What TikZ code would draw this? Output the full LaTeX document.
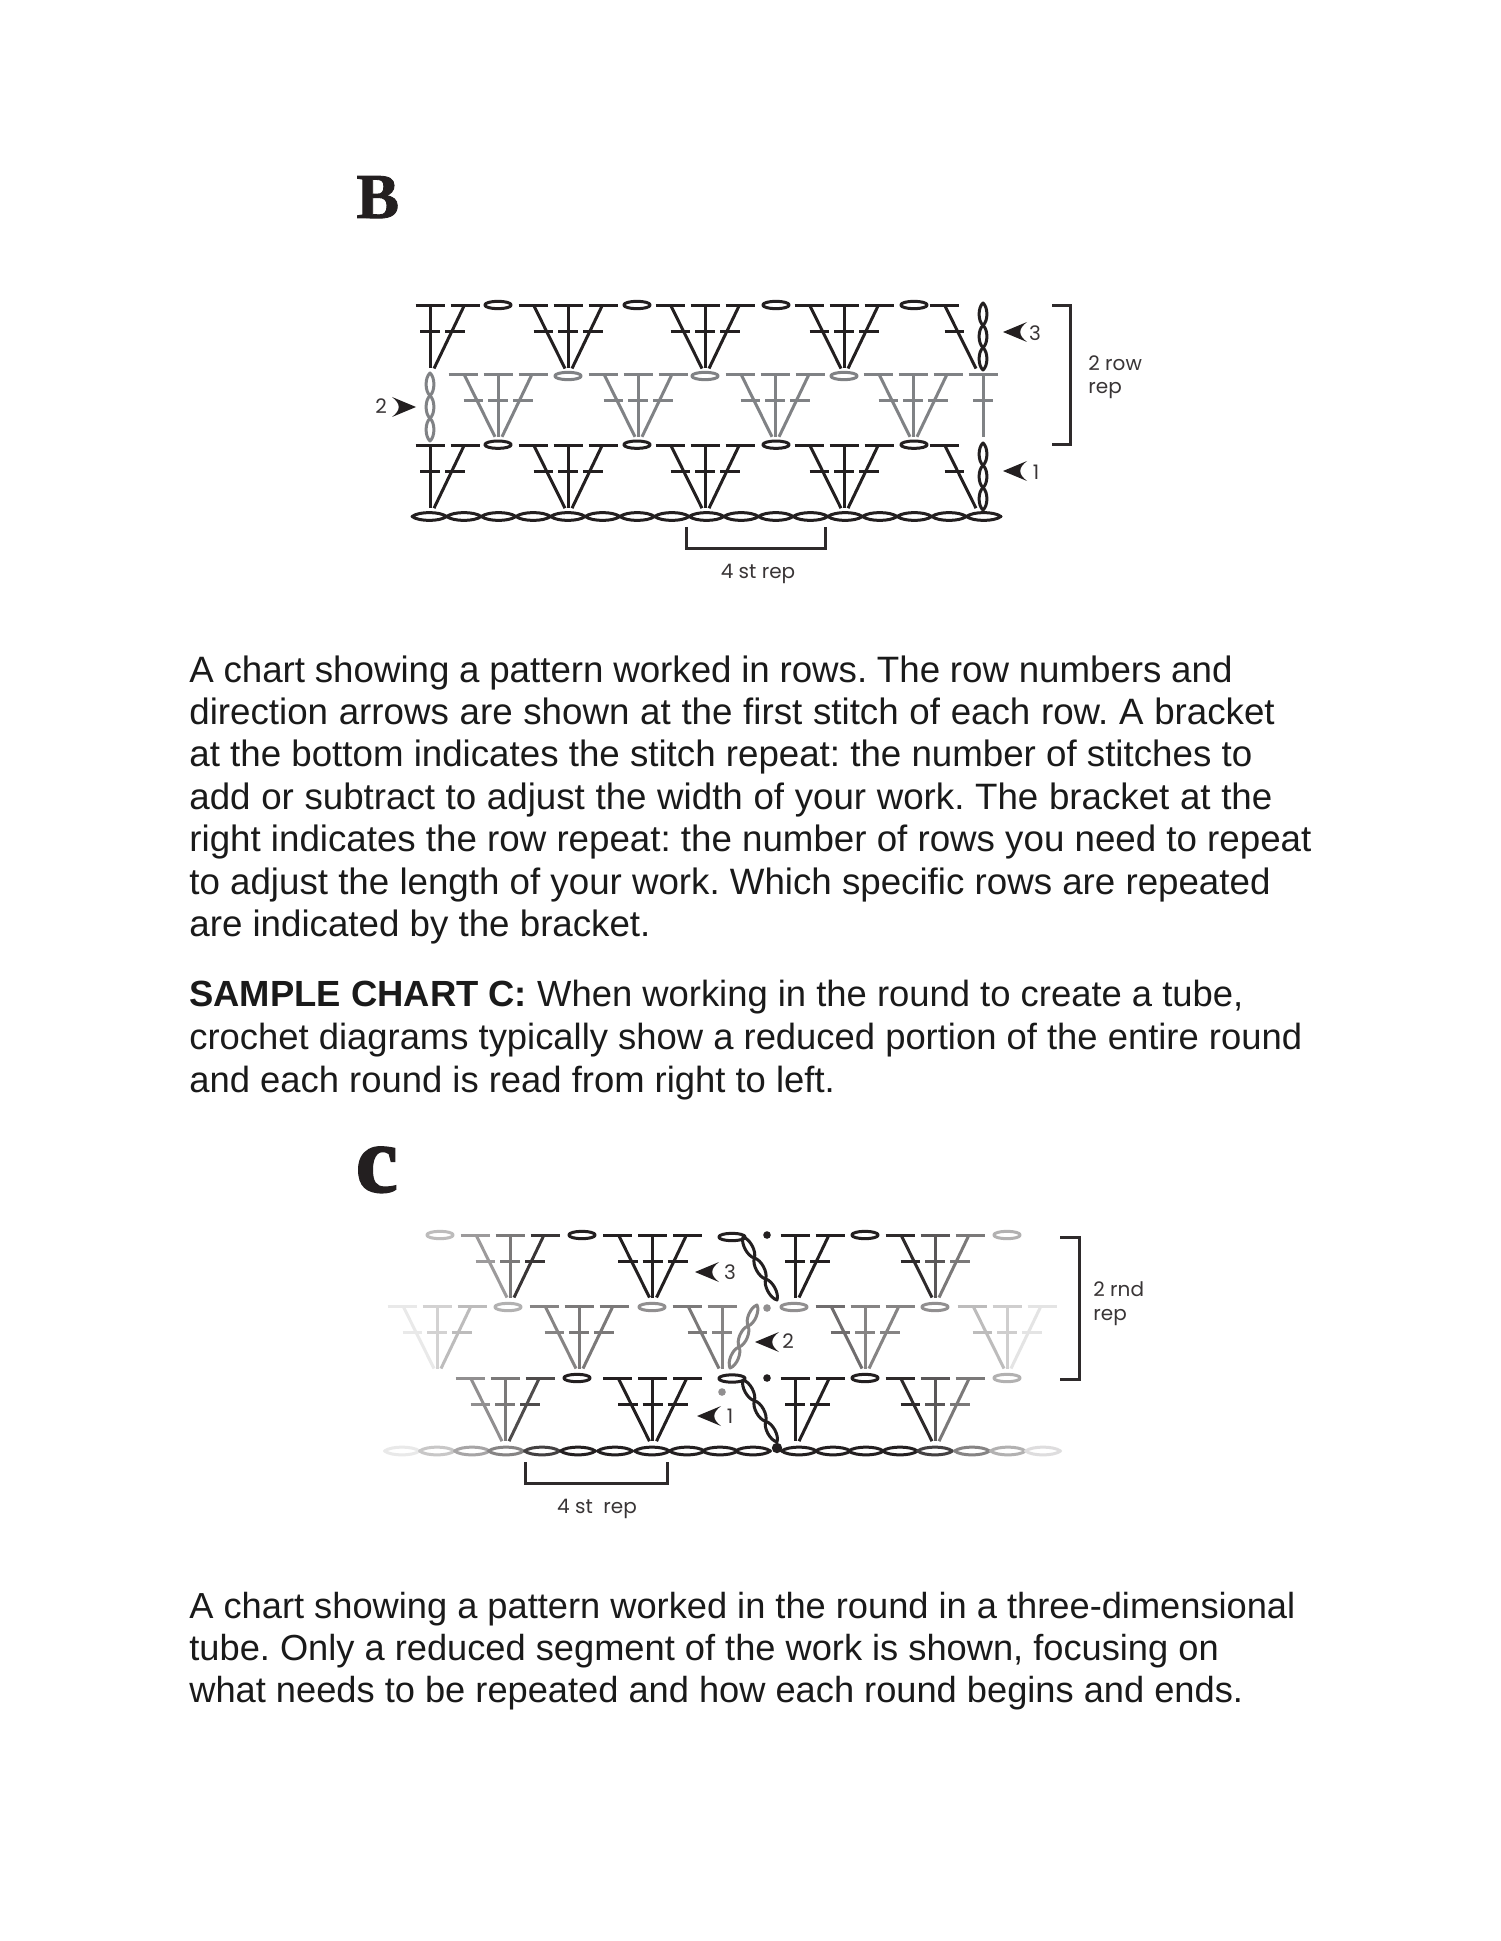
\documentclass[tikz,border=0pt]{standalone}
\usepackage{fontspec}
\setmainfont{Liberation Sans}
\newfontfamily\chartfont{Poppins}
\newfontfamily\letterfont[BoldFeatures={FakeBold=1.4}]{Liberation Serif}
\definecolor{ink}{HTML}{231F20}
\definecolor{midgrey}{HTML}{808285}
\definecolor{bodyink}{HTML}{1A1A1A}
\frenchspacing
\tikzset{
  stitch/.style={line width=1.5pt,line cap=butt,line join=round},
  bracketline/.style={line width=1.5pt,color=ink!95,line cap=butt,line join=miter},
  marker/.style={fill=ink,draw=none},
  bodytext/.style={anchor=north west,inner sep=0pt,align=left,text=bodyink,font=\fontsize{18.35}{21.2}\selectfont},
  bodywide/.style={bodytext,font=\fontsize{18.2}{21.65}\selectfont},
  bodynarrow/.style={bodytext,font=\fontsize{18.12}{21.2}\selectfont},
  charttext/.style={inner sep=0pt,text=ink!90,font=\chartfont\fontsize{10}{11.9}\selectfont},
  chartlabel/.style={charttext,anchor=base west,align=left},
}
% a text line set to a given width
\newcommand\setline[2]{\makebox[#1][s]{#2}}
% one closed loop of a chain, lens shaped: centre x, y, angle, half length, colour
\newcommand\lensloop[5]{%
  \begin{scope}[shift={(#1,#2)},rotate=#3]
    \draw[stitch,#5] ({-#4},0) .. controls ({-0.6*#4},-5.2) and ({0.6*#4},-5.2) .. ({#4},0)
      .. controls ({0.6*#4},5.2) and ({-0.6*#4},5.2) .. cycle;
  \end{scope}}
% a twisted chain of three loops between two points
\newcommand\twistchain[5]{%
  \pgfmathsetmacro\twang{atan2(#2-#4,#3-#1)}%
  \pgfmathsetmacro\twhl{veclen(#3-#1,#4-#2)/6}%
  \foreach \tw in {1,3,5}{%
    \pgfmathsetmacro\twx{#1+(#3-#1)*\tw/6}%
    \pgfmathsetmacro\twy{#2+(#4-#2)*\tw/6}%
    \lensloop{\twx}{\twy}{\twang}{\twhl}{#5}}}
% a small oval chain stitch
\newcommand\ovalst[3]{\draw[stitch,#3] (#1,#2) ellipse [x radius=6.6pt,y radius=1.85pt];}
% the three limbs of a cluster: base x, top y, colour
\newcommand\limbleft[3]{%
  \draw[stitch,#3] ({#1-49.5},#2) -- ({#1-20.5},#2);
  \draw[stitch,#3] ({#1-34},#2) -- ({#1-3},{#2+62.5});
  \draw[stitch,#3] ({#1-34.5},{#2+26}) -- ({#1-15},{#2+26});}
\newcommand\limbmid[3]{%
  \draw[stitch,#3] ({#1-14.5},#2) -- ({#1+14.5},#2);
  \draw[stitch,#3] (#1,#2) -- (#1,{#2+62.5});
  \draw[stitch,#3] ({#1-10},{#2+26}) -- ({#1+10},{#2+26});}
\newcommand\limbright[3]{%
  \draw[stitch,#3] ({#1+20.5},#2) -- ({#1+49.5},#2);
  \draw[stitch,#3] ({#1+34},#2) -- ({#1+4},{#2+62.5});
  \draw[stitch,#3] ({#1+15},{#2+26}) -- ({#1+35},{#2+26});}
\newcommand\crown[5]{\limbleft{#1}{#2}{#3}\limbmid{#1}{#2}{#4}\limbright{#1}{#2}{#5}}
% small barbed pointer: tip x, y, direction (+1 points right, -1 points left)
\newcommand\barb[3]{%
  \fill[marker] (#1,#2) -- ({#1-#3*24},{#2-10}) .. controls ({#1-#3*15},{#2-3}) and ({#1-#3*15},{#2+3}) .. ({#1-#3*24},{#2+10}) -- cycle;}
\begin{document}
\begin{tikzpicture}[x=0.5pt,y=-0.5pt]
\useasboundingbox (0,0) rectangle (1500,1941);
\fill[white] (0,0) rectangle (1500,1941);

% ---------- chart B ----------
\node[anchor=base west,inner sep=0pt,text=ink,font=\letterfont\bfseries\fontsize{32}{32}\selectfont] (letterB) at (356,218) {B};
\foreach \k in {0,...,16}{\pgfmathsetmacro\cx{429.3+34.65*\k}\lensloop{\cx}{516.5}{0}{17.3}{ink}}
% row 3 and row 1
\foreach \yt in {306,445.7}{
  \limbmid{430}{\yt}{ink}\limbright{430}{\yt}{ink}
  \foreach \c in {568,705,844}{\crown{\c}{\yt}{ink}{ink}{ink}}
  \limbleft{979}{\yt}{ink}
  \foreach \xo in {498,637,776,914}{\ovalst{\xo}{\yt-1}{ink}}
}
\twistchain{983}{303}{983}{370}{ink}
\twistchain{983}{443}{983}{510}{ink}
% row 2
\foreach \c in {498,638,775,913}{\crown{\c}{374.3}{midgrey}{midgrey}{midgrey}}
\limbmid{983}{374.3}{midgrey}
\foreach \xo in {568,705,844}{\ovalst{\xo}{376}{midgrey}}
\twistchain{430}{373}{430}{441}{midgrey}
% pointers
\barb{416}{407}{1}
\barb{1003}{332}{-1}
\barb{1003}{471}{-1}
\node[charttext] (b2) at (381,406) {2};
\node[charttext] (b3) at (1035,333) {3};
\node[charttext] (b1) at (1036,472) {1};
% brackets
\draw[bracketline] (1052,306) -- (1070,306) -- (1070,445) -- (1052,445);
\node[chartlabel] (brow) at (1088,394) {2 row\\rep};
\draw[bracketline] (686,527) -- (686,548) -- (825,548) -- (825,527);
\node[charttext] (brep) at (758,574) {4 st rep};

% ---------- body text ----------
\node[bodytext] (para1) at (189,652) {\strut\setline{521.6pt}{A chart showing a pattern worked in rows. The row numbers and}\\
\setline{542.7pt}{direction arrows are shown at the first stitch of each row. A bracket}\\
at the bottom indicates the stitch repeat: the number of stitches to\\
\setline{541.5pt}{add or subtract to adjust the width of your work. The bracket at the}\\
right indicates the row repeat: the number of rows you need to repeat\\
to adjust the length of your work. Which specific rows are repeated\\
are indicated by the bracket.};
\node[bodywide] (para2) at (189,975.5) {\strut\textbf{SAMPLE CHART C:} When working in the round to create a tube,\\
crochet diagrams typically show a reduced portion of the entire round\\
and each round is read from right to left.};
\node[bodynarrow] (para3) at (189,1588) {\strut A chart showing a pattern worked in the round in a three-dimensional\\
tube. Only a reduced segment of the work is shown, focusing on\\
what needs to be repeated and how each round begins and ends.};

% ---------- chart C ----------
\node[anchor=base west,inner sep=0pt,text=ink,font=\letterfont\bfseries\fontsize{48}{48}\selectfont] (letterC) at (355,1192) {c};
% foundation chain
\foreach \cx/\cc in {402/ink!10,437/ink!25,472/ink!40,506/ink!55,542/ink!85,578/ink,615/ink,652/ink,687/ink,720/ink,753/ink,799/ink,833/ink,866/ink,900/ink,935/ink!85,972/ink!55,1008/ink!35,1043/ink!15}{
  \lensloop{\cx}{1451}{0}{17.5}{\cc}}
\fill[ink] (777,1448) circle (2.6pt);
% round 3
\crown{510}{1235}{ink!45}{ink!60}{ink!90}
\crown{652.5}{1235}{ink}{ink}{ink}
\limbmid{795}{1235}{ink}\limbright{795}{1235}{ink}
\crown{935}{1235}{ink!95}{ink!75}{ink!60}
\ovalst{440}{1235}{ink!30}
\ovalst{582}{1235}{ink}
\ovalst{732}{1237}{ink}
\ovalst{865}{1235}{ink}
\ovalst{1007}{1235}{ink!35}
\twistchain{743}{1237}{777}{1300}{ink}
\fill[ink] (767,1235) circle (1.9pt);
% round 2
\crown{437}{1306}{ink!10}{ink!20}{ink!30}
\crown{579}{1306}{ink!55}{ink!60}{ink!60}
\limbleft{722}{1306}{ink!60}\limbmid{722}{1306}{ink!55}
\crown{865}{1306}{ink!65}{ink!55}{ink!55}
\crown{1007}{1306}{ink!30}{ink!22}{ink!12}
\ovalst{508}{1307}{ink!35}
\ovalst{652}{1307}{ink!50}
\ovalst{794}{1307}{ink!50}
\ovalst{935}{1307}{ink!50}
\twistchain{757}{1305}{730}{1368}{ink!55}
\fill[ink!50] (767,1308) circle (1.9pt);
% round 1
\crown{505}{1378.7}{ink!50}{ink!60}{ink!80}
\crown{652.5}{1378.7}{ink}{ink}{ink}
\limbmid{795}{1378.7}{ink}\limbright{795}{1378.7}{ink}
\crown{935}{1378.7}{ink!95}{ink!75}{ink!60}
\ovalst{577}{1378}{ink}
\ovalst{732}{1378.5}{ink}
\ovalst{865}{1378}{ink}
\ovalst{1007}{1378}{ink!35}
\twistchain{743}{1380}{777}{1442}{ink}
\fill[ink] (767,1378) circle (1.9pt);
\fill[ink!50] (722,1392) circle (1.9pt);
% pointers
\barb{695}{1272}{-1}
\barb{755}{1342}{-1}
\barb{697}{1416}{-1}
\node[charttext] (c3) at (730,1272) {3};
\node[charttext] (c2) at (788,1341) {2};
\node[charttext] (c1) at (730,1416) {1};
% brackets
\draw[bracketline] (1060,1237) -- (1079,1237) -- (1079,1379) -- (1060,1379);
\node[chartlabel] (crow) at (1093,1320) {2 rnd\\rep};
\draw[bracketline] (525,1462) -- (525,1483) -- (667,1483) -- (667,1462);
\node[charttext] (crep) at (597,1509) {4 st\ \ rep};
\end{tikzpicture}
\end{document}
